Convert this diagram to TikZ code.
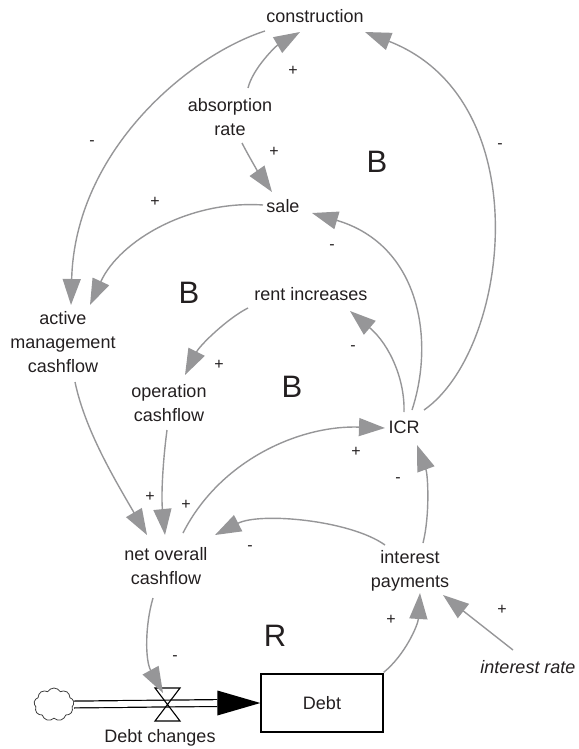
\documentclass[tikz,border=0pt]{standalone}
\usepackage{fontspec}
\setmainfont{Liberation Sans}
\usetikzlibrary{arrows.meta,calc,shapes.symbols}
\definecolor{lk}{RGB}{150,150,152}
\definecolor{tx}{RGB}{35,31,32}
\begin{document}
\begin{tikzpicture}[x=1pt,y=-1pt,
  var/.style={font=\fontsize{18}{24}\selectfont, text=tx, align=center, inner sep=0pt},
  lnk/.style={draw=lk, line width=1.4pt, -{Triangle[length=26pt,width=18pt]}},
  pol/.style={font=\fontsize{16}{16}\selectfont, text=tx, inner sep=0pt},
  loopl/.style={font=\fontsize{31}{31}\selectfont, text=tx, inner sep=0pt},
  stockbox/.style={draw=black, line width=1.3pt, minimum width=122pt, minimum height=58pt, inner sep=0pt, font=\fontsize{18}{24}\selectfont, text=tx}]
\useasboundingbox (0,0) rectangle (578,749);

% variables
\node[var] (con) at (315,16) {construction};
\node[var] (abs) at (230,117) {absorption\\rate};
\node[var] (sale) at (283,206) {sale};
\node[var] (act) at (63,342) {active\\management\\cashflow};
\node[var] (rent) at (311,294) {rent increases};
\node[var] (op) at (169,403) {operation\\cashflow};
\node[var] (icr) at (404,427) {ICR};
\node[var] (net) at (166,566) {net overall\\cashflow};
\node[var] (int) at (410,571) {interest\\payments};
\node[var] (rate) at (528,667) {\itshape interest rate};
\node[stockbox] (debt) at (322,703) {Debt};
\node[var] (dc) at (160,738) {Debt changes};

% loop labels
\node[loopl] (b1) at (377,162) {B};
\node[loopl] (b2) at (189,293) {B};
\node[loopl] (b3) at (292,387) {B};
\node[loopl] (r1) at (275,636) {R};

% flow
\node[cloud, draw=black!75, line width=0.8pt, cloud puffs=9, cloud puff arc=120, aspect=1.2,
      minimum width=40pt, minimum height=33pt, inner sep=0pt] (cloud) at (54,704.5) {};
\coordinate (valve) at (167.5,704.5);
\draw[line width=1.2pt, double distance=5.6pt] (cloud.east) -- ($(debt.west)+(-43,0)$);
\fill[black] (debt.west) -- ($(debt.west)+(-43,-12.5)$) -- ($(debt.west)+(-43,12.5)$) -- cycle;
\draw[line width=1.1pt] ($(valve)+(-12.5,-16.5)$) -- ($(valve)+(12.5,-16.5)$) -- ($(valve)+(-12.5,16.5)$) -- ($(valve)+(12.5,16.5)$) -- cycle;

% links
\draw[lnk] ($(abs)+(18,-29)$) .. controls (253,68) and (276,46) .. ($(con)+(-15,16)$);
\draw[lnk] ($(abs)+(12,26)$) .. controls (248,155) and (260,175) .. ($(sale)+(-11,-14)$);
\draw[lnk] ($(con)+(-50,15)$) .. controls (190,55) and (75,150) .. ($(act)+(8,-37)$);
\draw[lnk] ($(sale)+(-20,-1)$) .. controls (190,200) and (120,240) .. ($(act)+(27,-37)$);
\draw[lnk] ($(rent)+(-63,14)$) .. controls (228,318) and (200,345) .. ($(op)+(16,-28)$);
\draw[lnk] ($(act)+(12,40)$) .. controls (85,430) and (115,480) .. ($(net)+(-19,-31)$);
\draw[lnk] ($(op)+(-2,27)$) .. controls (163,460) and (161,495) .. ($(net)+(-1,-31)$);
\draw[lnk] ($(net)+(17,-33)$) .. controls (220,460) and (300,425) .. ($(icr)+(-19,1)$);
\draw[lnk] ($(int)+(-25,-26)$) .. controls (350,520) and (260,512) .. ($(net)+(49,-31)$);
\draw[lnk] ($(int)+(13,-28)$) .. controls (430,515) and (428,475) .. ($(icr)+(13,18)$);
\draw[lnk] ($(debt.north east)+(0,-1)$) .. controls (405,655) and (418,625) .. ($(int)+(10,22)$);
\draw[lnk] ($(rate)+(-15,-17)$) -- ($(int)+(33,24)$);
\draw[lnk] ($(icr)+(0,-15)$) .. controls (405,380) and (390,345) .. ($(rent)+(39,17)$);
\draw[lnk] ($(icr)+(8,-17)$) .. controls (435,340) and (420,245) .. ($(sale)+(29,7)$);
\draw[lnk] ($(icr)+(20,-17)$) .. controls (510,350) and (540,100) .. ($(con)+(50,16)$);
\draw[lnk] ($(net)+(-13,32)$) .. controls (145,625) and (145,660) .. ($(valve)+(-4.5,-11.5)$);

% polarities
\node[pol] (p1) at (293,71) {+};
\node[pol] (p2) at (274,152) {+};
\node[pol] (p3) at (92,143) {-};
\node[pol] (p4) at (155,202) {+};
\node[pol] (p5) at (219,365) {+};
\node[pol] (p6) at (150,497) {+};
\node[pol] (p7) at (186,505) {+};
\node[pol] (p8) at (356,452) {+};
\node[pol] (p9) at (250,548) {-};
\node[pol] (p10) at (398,480) {-};
\node[pol] (p11) at (391,620) {+};
\node[pol] (p12) at (502,610) {+};
\node[pol] (p13) at (353,348) {-};
\node[pol] (p14) at (332,247) {-};
\node[pol] (p15) at (500,146) {-};
\node[pol] (p16) at (175,658) {-};
\end{tikzpicture}
\end{document}
